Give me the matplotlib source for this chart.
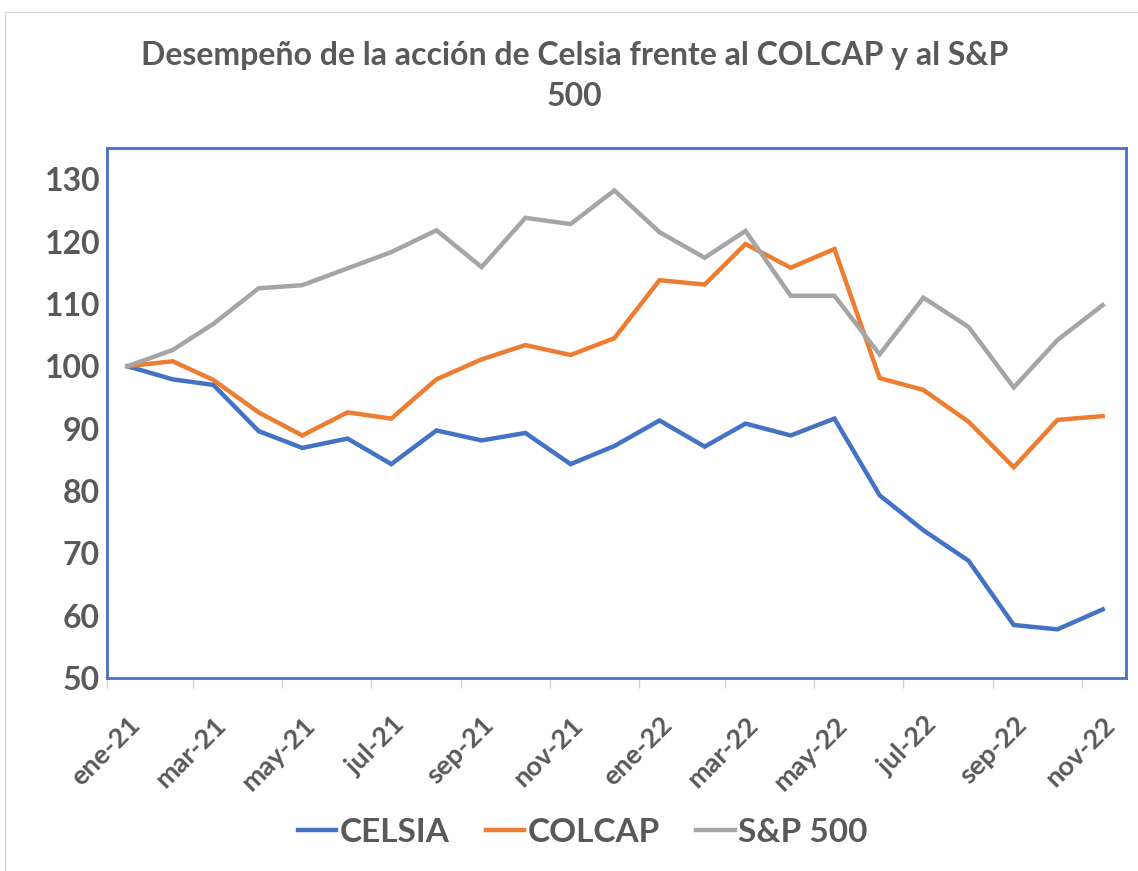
import datetime as dt
import matplotlib
matplotlib.use("Agg")
import matplotlib.pyplot as plt
import matplotlib.dates as mdates
import matplotlib.transforms as mtransforms
from matplotlib.patches import Rectangle

# monthly data, Jan-2021 .. Nov-2022 (base 100)
fechas = [dt.date(2021 + i // 12, i % 12 + 1, 15) for i in range(23)]
celsia = [100.0, 97.9, 97.0, 89.6, 86.9, 88.4, 84.3, 89.7, 88.1, 89.3, 84.3, 87.2,
          91.3, 87.1, 90.8, 88.9, 91.6, 79.3, 73.7, 68.8, 58.5, 57.8, 61.0]
colcap = [100.0, 100.8, 97.8, 92.6, 88.9, 92.6, 91.6, 97.9, 101.1, 103.4, 101.8, 104.5,
          113.8, 113.1, 119.6, 115.8, 118.8, 98.1, 96.2, 91.1, 83.8, 91.4, 92.0]
sp500 = [100.0, 102.6, 106.8, 112.5, 113.0, 115.7, 118.3, 121.8, 115.9, 123.8, 122.8, 128.2,
         121.5, 117.4, 121.7, 111.3, 111.3, 101.9, 111.0, 106.3, 96.6, 104.2, 109.8]
meses = ["ene", "feb", "mar", "abr", "may", "jun", "jul", "ago", "sep", "oct", "nov", "dic"]

gris_txt = "#595959"
plt.rcParams["font.family"] = ["Lato", "DejaVu Sans"]

fig = plt.figure(figsize=(11.38, 8.71), dpi=100)
ax = fig.add_axes([107 / 1138, 1 - 678 / 871, (1126 - 107) / 1138, (678 - 148) / 871])

ax.plot(fechas, celsia, color="#4472C4", lw=3.2, label="CELSIA", solid_joinstyle="miter")
ax.plot(fechas, colcap, color="#ED7D31", lw=3.2, label="COLCAP", solid_joinstyle="miter")
ax.plot(fechas, sp500, color="#A5A5A5", lw=3.2, label="S&P 500", solid_joinstyle="miter")

ax.set_xlim(dt.date(2021, 1, 1), dt.date(2022, 12, 1))
ax.set_ylim(50, 135)
ax.set_yticks(range(50, 131, 10))

ax.xaxis.set_major_locator(mdates.MonthLocator(bymonth=[1, 3, 5, 7, 9, 11]))
ax.xaxis.set_major_formatter(plt.FuncFormatter(
    lambda v, p: f"{meses[mdates.num2date(v).month - 1]}-{mdates.num2date(v).year % 100}"))

for s in ax.spines.values():
    s.set_color("#4472C4")
    s.set_linewidth(2)

ax.tick_params(axis="y", length=0, pad=5, labelsize=23, labelcolor=gris_txt)
ax.tick_params(axis="x", direction="out", length=7, width=1, color="#D0D0D0",
               pad=24, labelsize=19.5, labelcolor=gris_txt)
for t in ax.get_yticklabels():
    t.set_fontweight("bold")
off = mtransforms.ScaledTranslation(0.29, 0, fig.dpi_scale_trans)
for t in ax.get_xticklabels():
    t.set_rotation(45)
    t.set_ha("right")
    t.set_va("center")
    t.set_rotation_mode("anchor")
    t.set_fontweight("bold")
    t.set_transform(t.get_transform() + off)

fig.text(0.505, 1 - 56 / 871, "Desempeño de la acción de Celsia frente al COLCAP y al S&P",
         ha="center", va="center", fontsize=23, fontweight="bold", color=gris_txt)
fig.text(0.505, 1 - 96 / 871, "500", ha="center", va="center",
         fontsize=23, fontweight="bold", color=gris_txt)

leg = fig.legend(loc="center", bbox_to_anchor=(0.512, 1 - 832 / 871), ncol=3, frameon=False,
                 fontsize=24, handlelength=1.15, handletextpad=0.1, columnspacing=1.1)
for t in leg.get_texts():
    t.set_color(gris_txt)
    t.set_fontweight("bold")

fig.add_artist(Rectangle((5 / 1138, -0.05), 1.1, 1.05 - 12 / 871, transform=fig.transFigure,
                         fill=False, edgecolor="#D9D9D9", lw=1))

fig.savefig("out.png", dpi=100)
